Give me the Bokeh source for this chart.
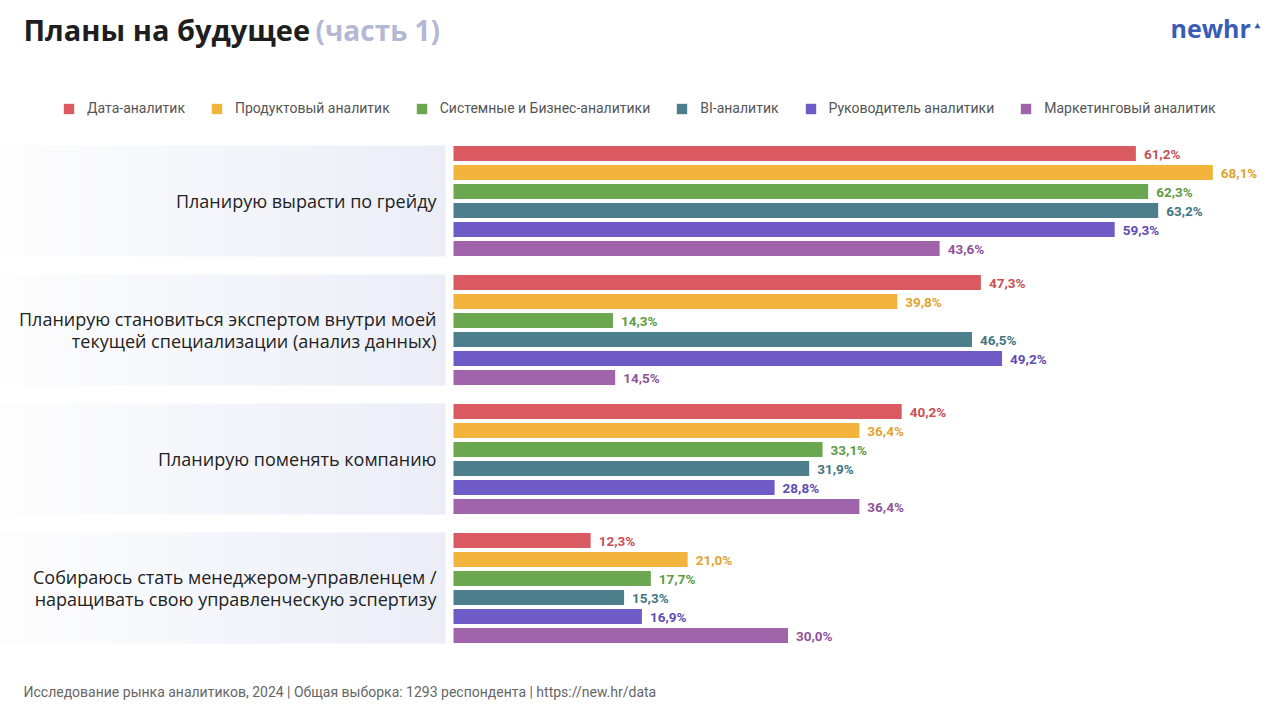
from bokeh.plotting import figure
from bokeh.models import Range1d, ColumnDataSource, Label, Legend, LegendItem
from bokeh.core.properties import value
from bokeh.embed import file_html
from bokeh.resources import INLINE

# ---------------- data ----------------
categories = [
    "Планирую вырасти по грейду",
    "Планирую становиться экспертом внутри моей\nтекущей специализации (анализ данных)",
    "Планирую поменять компанию",
    "Собираюсь стать менеджером-управленцем /\nнаращивать свою управленческую эспертизу",
]
series_names = [
    "Дата-аналитик",
    "Продуктовый аналитик",
    "Системные и Бизнес-аналитики",
    "BI-аналитик",
    "Руководитель аналитики",
    "Маркетинговый аналитик",
]
data_analyst = [61.2, 47.3, 40.2, 12.3]
product_analyst = [68.1, 39.8, 36.4, 21.0]
system_business = [62.3, 14.3, 33.1, 17.7]
bi_analyst = [63.2, 46.5, 31.9, 15.3]
head_analytics = [59.3, 49.2, 28.8, 16.9]
marketing_analyst = [43.6, 14.5, 36.4, 30.0]
series_values = [data_analyst, product_analyst, system_business,
                 bi_analyst, head_analytics, marketing_analyst]

title_main = "Планы на будущее"
title_sub = "(часть 1)"
footer = "Исследование рынка аналитиков, 2024 | Общая выборка: 1293 респондента | https://new.hr/data"

# ---------------- styles ----------------
bar_colors = ["#d95b61", "#f2b43c", "#6ba650", "#4c7f8b", "#6e5bc5", "#a064aa"]
label_colors = ["#c94f57", "#e0a52f", "#5e9a45", "#3f7682", "#5f4db5", "#8f549a"]

W, H = 1272, 712
PX_PER_PCT = 11.15
BAR_X0 = 453            # x of 0 %
FIRST_BAR_Y = 153       # y of first bar centre
GROUP_STEP = 129
BAR_STEP = 19
BAR_H = 15
PANEL_RIGHT = 445

p = figure(width=W, height=H, output_backend="svg", toolbar_location=None,
           x_axis_location=None, y_axis_location=None, title=None,
           min_border=0, min_border_left=0, min_border_right=0,
           min_border_top=0, min_border_bottom=0,
           x_range=Range1d(0, W), y_range=Range1d(H, 0))
p.extra_x_ranges = {"pct": Range1d((0 - BAR_X0) / PX_PER_PCT,
                                   (W - BAR_X0) / PX_PER_PCT)}
p.grid.visible = False
p.outline_line_color = None
p.background_fill_color = "white"
p.border_fill_color = "white"

# ---------------- panels (horizontal gradient) ----------------
n_strips = 40
c0 = (253, 253, 254)
c1 = (235, 238, 247)
pl, pr, pt, pb, pc = [], [], [], [], []
for g in range(len(categories)):
    top = FIRST_BAR_Y + g * GROUP_STEP - BAR_H / 2 - 0.5
    bottom = FIRST_BAR_Y + g * GROUP_STEP + 5 * BAR_STEP + BAR_H / 2 + 0.5
    for i in range(n_strips):
        t = i / (n_strips - 1)
        col = tuple(int(round(c0[k] + (c1[k] - c0[k]) * t)) for k in range(3))
        x0 = PANEL_RIGHT * i / n_strips
        x1 = PANEL_RIGHT * (i + 1) / n_strips + 0.6
        pl.append(x0); pr.append(min(x1, PANEL_RIGHT)); pt.append(top); pb.append(bottom)
        pc.append("#%02x%02x%02x" % col)
p.quad(left=pl, right=pr, top=pt, bottom=pb, fill_color=pc, line_color=None)

# ---------------- category labels ----------------
cat_y = [FIRST_BAR_Y + g * GROUP_STEP + 2.5 * BAR_STEP for g in range(len(categories))]
p.text(x=[PANEL_RIGHT - 9] * len(categories), y=cat_y, text=categories,
       text_align="right", text_baseline="middle",
       text_font=value("Open Sans"), text_font_size="18px",
       text_color="#222222", text_line_height=0.89)

# ---------------- bars + value labels ----------------
legend_items = []
for s, (name, vals) in enumerate(zip(series_names, series_values)):
    ys = [FIRST_BAR_Y + g * GROUP_STEP + s * BAR_STEP for g in range(len(vals))]
    src = ColumnDataSource(dict(
        y=ys, v=vals,
        lbl=[("%.1f" % v).replace(".", ",") + "%" for v in vals]))
    r = p.hbar(y="y", left=0, right="v", height=BAR_H, source=src,
               x_range_name="pct", fill_color=bar_colors[s], line_color=None)
    p.text(x="v", y="y", text="lbl", source=src, x_range_name="pct",
           x_offset=8, text_align="left", text_baseline="middle",
           text_font=value("Roboto"), text_font_size="13.5px",
           text_font_style="bold", text_color=label_colors[s])
    legend_items.append(LegendItem(label=name, renderers=[r]))

legend = Legend(items=legend_items, orientation="horizontal",
                location=(62, H - 117), glyph_width=13, glyph_height=13,
                label_standoff=12, spacing=25, padding=0, margin=0,
                label_text_font="Roboto", label_text_font_size="14px",
                label_text_color="#555555", label_height=18,
                border_line_color=None, background_fill_alpha=0)
p.add_layout(legend, "center")

# ---------------- titles, logo, footer ----------------
p.add_layout(Label(x=23, y=29, text=title_main, text_font="Open Sans",
                   text_font_size="29px", text_font_style="bold",
                   text_color="#1e1e1e", text_baseline="alphabetic"))
p.add_layout(Label(x=315, y=29, text=title_sub, text_font="Open Sans",
                   text_font_size="28px", text_font_style="bold",
                   text_color="#b4b8d4", text_baseline="alphabetic"))
p.add_layout(Label(x=1170, y=27, text="newhr", text_font="Open Sans",
                   text_font_size="25px", text_font_style="bold",
                   text_color="#3a5cb6", text_baseline="alphabetic"))
p.scatter(x=[1257], y=[26], marker="triangle", size=6,
          fill_color="#3a5cb6", line_color=None)
p.add_layout(Label(x=23, y=691, text=footer, text_font="Roboto",
                   text_font_size="14px", text_color="#666666",
                   text_baseline="alphabetic"))

open("out.html", "w").write(file_html(p, INLINE))
